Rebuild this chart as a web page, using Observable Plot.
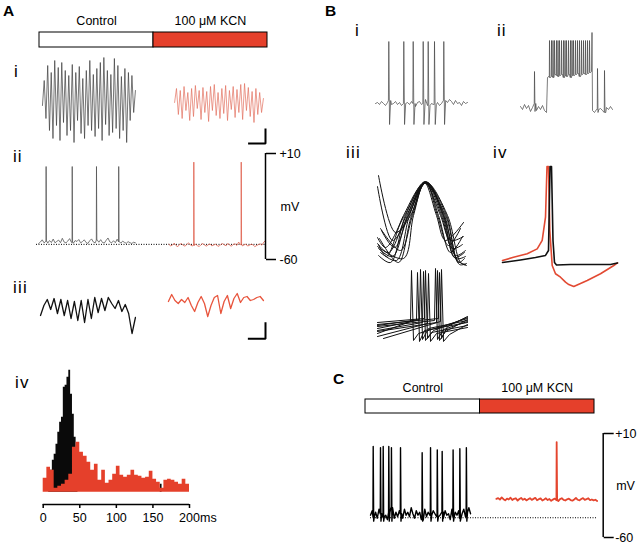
<!DOCTYPE html>
<html><head><meta charset="utf-8">
<script src="https://cdn.jsdelivr.net/npm/d3@7"></script>
<script src="https://cdn.jsdelivr.net/npm/@observablehq/plot@0.6"></script>
<style>
html,body{margin:0;padding:0;background:#fff;}
#fig{position:relative;width:640px;height:544px;overflow:hidden;font-family:"Liberation Sans",Arial,Helvetica,sans-serif;color:#000;background:#fff;}
.lbl{position:absolute;line-height:1;white-space:nowrap;}
</style></head><body><div id="fig"></div>
<script>
// ---------------- DATA ----------------
const conditions = ["Control", "100 μM KCN"];
const conditionFill = ["white", "#e5402b"];
const mVTicks = [10, -60];

// A i : membrane oscillation (µV), time in s
const aiTime = {control: [0.26, 4.32], kcn: [6.03, 9.91]};
const aiControl = [-5,20,-18,35,-30,28,-38,40,-25,33,-40,38,-22,30,-35,25,-30,36,-42,28,-20,34,-33,22,-38,30,-25,40,-30,26,-36,32,-28,38,-40,43,-24,30,-35,26,-32,42,-28,35,-38,24,-30,32,-42,28,-20,25,-12,10];
const aiKCN = [-2,12,-14,10,-18,14,-10,8,-20,12,-16,15,-8,10,-19,13,-12,9,-21,14,-10,16,-15,8,-18,12,-13,15,-20,10,-9,14,-17,11,-12,16,-19,17,-10,13,-16,9,-22,12,-14,8,-12,2];
const aiScaleBar = {s: 0.76, amp: 15};

// A ii : intracellular trace (mV), time in s
const aiiTime = {control: [0.09, 4.32], kcn: [5.78, 10]};
const aiiControlBase = [-49.5,-48.5,-47,-49,-48,-49.2,-47.5,-48.8,-46.5,-49,-48,-47.2,-48.9,-46,-48.5,-49,-47.8,-46.2,-48.7,-49.3,-47.5,-48.1,-46.8,-49,-48.2,-47,-48.8,-49.4,-47.6,-46.4,-48.5,-49,-47.2,-48.6,-46.9,-48.8,-49.1,-47.3,-45.8,-48.4,-49,-47.6,-48.9,-46.6,-48.3,-49.2,-47.9,-48.7,-49.3,-48.2,-48.9,-49.4,-48.6,-49];
const aiiKCNBase = [-50,-51,-50.5,-49.2,-50.8,-51.5,-50,-49.5,-50.6,-51.2,-50.1,-49,-50.4,-51,-50.7,-49.8,-50.9,-51.4,-50.2,-49.4,-50.6,-51.1,-50.3,-49.7,-51,-50.5,-49.9,-50.8,-51.3,-50.1,-49.5,-50.4,-50.9,-49.3,-50.6,-51.2,-50,-49.6,-50.7,-48.5,-50.2,-51,-50.4,-49.8,-51.1,-50.6,-49.9,-50.3,-51.5,-50.8,-50.2,-49.6,-50.5,-48.6,-47.5];
const aiiControlSpikes = [0.42, 1.56, 2.62, 3.59];
const aiiKCNSpikes = [6.87, 8.94];
const aiiPeak = {control: 1.4, kcn: 4.3};
const aiiRest = -50;

// A iii : filtered oscillation, time in s
const aiiiTime = {control: [0.175, 4.32], kcn: [5.76, 9.91]};
const aiiiControl = [-5,5,11,1,12,-3,11,-5,10,-8,9,-10,10,-12,11,-8,13,-2,12,0,13,7,2,10,-1,6,-3,-23,-7];
const aiiiKCN = [9,16,10,7,11,8,13,5,-1,8,14,7,-6,5,13,15,-3,9,15,2,12,17,8,13,14,10,11,13,14,10];
const aiiiScaleBar = {s: 0.77, amp: 16.6};

// A iv : phase histograms, 0-200 ms
const redBinMs = 5;
const redCounts = [14,25,22,4,6,8,12,18,45,50,40,36,30,22,28,12,22,9,12,18,26,17,15,17,22,17,16,14,15,21,13,10,4,12,13,12,10,8,13,8];
const blackBinMs = 2.5;
const blackCounts = [0,0,0,8,22,32,38,48,60,70,75,105,107,115,122,98,78,55,22,0,
  0,0,0,0,0,0,0,0,0,0,0,0,0,0,0,0,0,0,0,0,
  0,0,0,0,0,0,0,0,0,0,0,0,0,0,0,0,0,0,0,0,
  0,0,0,0,8,0,0,0,0,0,0,0,0,0,0,0,0,0,0,0];
const histTicks = [0, 50, 100, 150, 200];

// B i : extracellular unit (ms, a.u.)
const biTime = [0, 1840];
const biNoise = [0,1,-1,2,0,-2,1,3,-1,0,2,-1,1,-2,0,3,1,-1,2,0,-3,1,2,-1,0,4,-2,1,0,-1,2,1,-2,0,3,-1,1,4,2,-1,3,0,1,-2,2,0,1];
const biSpikes = [266, 566, 754, 954, 1054, 1180, 1366];
const biSpike = {peak: 62, trough: -21};

// B ii : burst (ms, a.u.)
const biiPreTime = [40, 560];
const biiPre = [2,-1,4,0,3,-3,1,5,-2,2,-1,3,-2,-4];
const biiPreSpikes = [320];
const biiPlateauTime = [580, 1460];
const biiPlateau = [31,32,31,33,32,31,32,34,31,33,32,31,33,32,34,32,31,33,35,32,33,34,32,31,33,35,33,32,34,33,35,34,32,36,34,33,35,37,34,36,35,38,36,34,37];
const biiPlateauSpikes = [620,660,690,720,760,790,820,860,900,930,960,1000,1040,1070,1100,1140,1180,1220,1260,1300,1340,1380,1420];
const biiFinalSpike = {t: 1470, peak: 76};
const biiPostTime = [1480, 1880];
const biiPost = [-2,-4,-1,-3,0,-2,-4,1,-1,2,-1];
const biiPostSpikes = [1580, 1720];
const biiPostPeaks = [40, 38];

// B iii : overlaid oscillation cycles [ms from peak, amplitude]
const biiiWaves = [
  [[-47,95],[-30,38],[-15,55],[-1,88],[15,55],[25,30],[38,34]],
  [[-48,84],[-33,30],[-17,55],[0,88],[16,55],[27,22],[37,26]],
  [[-48,33],[-40,23],[-21,55],[0,89],[19,55],[30,15],[40,20]],
  [[-48,27],[-37,18],[-19,55],[1,88],[18,55],[29,13],[39,18]],
  [[-47,22],[-33,14],[-18,55],[0,88],[21,55],[32,10],[40,6]],
  [[-45,18],[-29,10],[-16,55],[-1,87],[20,55],[33,8],[39,12]],
  [[-46,32],[-27,8],[-14,55],[1,88],[22,55],[35,8],[41,5]],
  [[-47,15],[-35,8],[-20,55],[0,88],[13,55],[25,18],[37,34]],
  [[-45,42],[-25,20],[-13,55],[0,89],[12,55],[23,25],[35,42]],
  [[-48,24],[-22,12],[-12,55],[-1,88],[11,55],[20,30],[38,48]],
  [[-44,40],[-31,23],[-17,55],[1,88],[17,55],[30,12],[40,14]],
  [[-47,26],[-39,14],[-22,55],[0,88],[18,55],[34,6],[41,7]]
];
// B iii : overlaid spikes [ms, amplitude]
const biiiSpikes = [
  [[-48,12],[-15,24],[-14,75],[-12,5],[-7,12],[42,27]],
  [[-48,17],[-9,25],[-8,73],[-6,4],[-1,15],[42,23]],
  [[-48,20],[-6,26],[-5,76],[-3,6],[3,17],[42,25]],
  [[-48,15],[-3,23],[-2,74],[0,5],[6,13],[42,20]],
  [[-48,23],[-1,27],[0,75],[2,7],[8,15],[42,28]],
  [[-48,9],[2,22],[3,72],[5,4],[11,12],[42,18]],
  [[-48,19],[9,25],[10,77],[12,6],[18,16],[42,24]],
  [[-48,14],[11,23],[12,75],[14,5],[20,14],[42,26]],
  [[-48,21],[13,27],[14,73],[16,7],[22,19],[42,29]],
  [[-42,7],[15,24],[16,76],[18,4],[24,11],[42,21]]
];

// B iv : averaged action potentials [ms, mV]
const bivControl = [[1,-60],[10,-58.3],[17.5,-56.7],[22.5,-55.3],[24,-52],[24.75,4],[25.5,4],[26.25,-45.3],[27,-60],[28,-61.7],[35,-61.3],[45,-61.3],[55,-61.3],[58.5,-60.3]];
const bivKCN = [[1,-58.7],[6.5,-56.5],[13.35,-54.2],[18.35,-50.9],[20.85,-45.3],[22.5,-29.8],[23.25,4],[24,4],[24.65,-38.7],[25.85,-62],[27.5,-67.5],[30,-69.8],[32.5,-73.1],[34.15,-74.7],[36.65,-76],[43.35,-72],[50,-67.5],[56.65,-62],[58.5,-60.3]];

// C : intracellular trace (mV), time in s
const cTime = {control: [0, 4.3], kcn: [5.41, 9.74]};
const cControlBase = [-45,-42,-46,-43,-47,-41,-44,-46,-42,-45,-48,-43,-40,-45,-47,-43,-46,-42,-44,-47,-41,-45,-43,-46,-40,-44,-47,-42,-45,-43,-48,-44,-41,-46,-43,-45,-47,-42,-44,-46,-40,-45,-43,-47,-42,-45,-44,-48,-41,-46,-43,-45,-42,-47,-44,-41,-46,-43,-40,-44];
const cKCNBase = [-34,-33.5,-34.5,-33,-34.2,-35,-33.8,-34.4,-33.2,-34.8,-34,-33.6,-35.2,-34.1,-33.4,-34.6,-33.9,-35,-34.3,-33.5,-34.7,-34,-33.3,-34.9,-34.2,-33.7,-35.1,-34.4,-33.6,-34.8,-34.1,-35.3,-34.5,-33.8,-34.9,-35.5,-34.2,-33.6,-34.7,-35.1,-34.3,-33.9,-34.8,-35.2,-34.4,-33.4,-34.6,-35,-34.1,-33.5,-34.7,-34.2,-33.6,-34.9,-34.4,-35,-34.6,-35.4];
const cControlSpikes = [0.116,0.43,0.546,0.786,0.9,1.29,2.22,2.58,2.87,3.08,3.55,3.84,4.12];
const cControlPeaks = [1.2,0.4,1.2,1.2,0.4,0.4,-3,0.4,-1,-2,-1,-0.3,0.4];
const cControlTrough = -49;
const cKCNSpikes = [8.0];
const cKCNPeak = 4.2;
const cRest = -46.7;
const cRestEnd = 9.77;

// ---------------- HELPERS ----------------
const fig = document.getElementById("fig");
const FONT = '"Liberation Sans", Arial, Helvetica, sans-serif';
function put(node, left, top) {
  node.style.position = "absolute";
  node.style.left = left + "px";
  node.style.top = top + "px";
  fig.appendChild(node);
  return node;
}
function frame(box, options) {
  return put(Plot.plot({
    width: box.w, height: box.h,
    marginLeft: box.l, marginRight: box.r, marginTop: box.t, marginBottom: box.b,
    style: {background: "transparent", overflow: "visible", fontFamily: FONT, fontSize: "12px", color: "black"},
    ...options
  }), box.x, box.y);
}
function label(text, left, baseline, size, bold, spacing) {
  const d = document.createElement("div");
  d.className = "lbl";
  d.textContent = text;
  d.style.fontSize = size + "px";
  d.style.fontWeight = bold ? "bold" : "normal";
  if (spacing) d.style.letterSpacing = spacing + "px";
  put(d, left, baseline - 0.8465 * size);
}
function sampled([t0, t1], values) {
  const dt = (t1 - t0) / (values.length - 1);
  return values.map((v, i) => ({t: t0 + i * dt, v}));
}
function withSpikes(pts, times, peaks, w, trough) {
  let out = pts.slice();
  times.forEach((ts, k) => {
    const near = d3.least(pts, p => Math.abs(p.t - ts));
    const lo = ts - w * 0.5, hi = ts + w * 2.5;
    out = out.filter(p => p.t < lo || p.t > hi);
    const peak = Array.isArray(peaks) ? peaks[k] : peaks;
    out.push({t: lo, v: near.v}, {t: ts, v: peak}, {t: ts + w, v: trough ?? near.v}, {t: hi, v: near.v});
  });
  return out.sort((a, b) => a.t - b.t);
}
function scaleBarPath(xEnd, yBase, bar) {
  return [{t: xEnd - bar.s, v: yBase}, {t: xEnd, v: yBase}, {t: xEnd, v: yBase + bar.amp}];
}
function pairs(list) {
  return list.flatMap((w, k) => w.map(([t, v]) => ({t, v, k})));
}
function steps(counts, bin) {
  const pts = counts.map((n, i) => ({ms: i * bin, n}));
  pts.push({ms: counts.length * bin, n: counts[counts.length - 1]});
  return pts;
}
function conditionBar(box) {
  frame(box, {
    x: {domain: [0, conditions.length], axis: null},
    color: {type: "identity"},
    marks: [
      Plot.barX(conditions, {x1: (d, i) => i, x2: (d, i) => i + 1, fill: (d, i) => conditionFill[i], stroke: "black", strokeWidth: 1}),
      Plot.text(conditions, {x: (d, i) => i + 0.5, frameAnchor: "top", lineAnchor: "bottom", dy: -8, text: d => d, fontSize: 12.5, fill: "black"})
    ]
  });
}
function mVBracket(xEnd, tickPadding, mvDx) {
  return [
    Plot.ruleX([xEnd], {y1: -60, y2: 10, stroke: "black", strokeWidth: 1.5}),
    Plot.axisY({anchor: "right", ticks: mVTicks, tickFormat: d => d > 0 ? "+" + d : String(d), tickSize: 10, tickPadding, fontSize: 12.5, strokeWidth: 1.5, label: null}),
    Plot.text(["mV"], {frameAnchor: "right", dx: mvDx, textAnchor: "start", fontSize: 12.5, fill: "black"})
  ];
}

// ---------------- PANEL A ----------------
conditionBar({x: 0, y: 0, w: 300, h: 50, l: 39, r: 33, t: 32, b: 3});

frame({x: 0, y: 50, w: 300, h: 100, l: 36, r: 35, t: 5, b: 5}, {
  x: {domain: [0, 10], axis: null}, y: {domain: [-45, 45], axis: null},
  marks: [
    Plot.line(sampled(aiTime.control, aiControl), {x: "t", y: "v", stroke: "#3c3c3c", strokeWidth: 0.7}),
    Plot.line(sampled(aiTime.kcn, aiKCN), {x: "t", y: "v", stroke: "#e2705e", strokeWidth: 0.7}),
    Plot.line(scaleBarPath(10, -43, aiScaleBar), {x: "t", y: "v", stroke: "black", strokeWidth: 2, strokeLinejoin: "miter", strokeLinecap: "butt"})
  ]
});

frame({x: 0, y: 140, w: 310, h: 130, l: 36, r: 45, t: 13, b: 11}, {
  x: {domain: [0, 10], axis: null}, y: {domain: [-60, 10]},
  marks: [
    Plot.ruleY([aiiRest], {x1: 0, x2: 10, stroke: "black", strokeWidth: 1, strokeDasharray: "1,1.5"}),
    Plot.line(withSpikes(sampled(aiiTime.control, aiiControlBase), aiiControlSpikes, aiiPeak.control, 0.015), {x: "t", y: "v", stroke: "#555", strokeWidth: 0.8}),
    Plot.line(withSpikes(sampled(aiiTime.kcn, aiiKCNBase), aiiKCNSpikes, aiiPeak.kcn, 0.015), {x: "t", y: "v", stroke: "#e0604c", strokeWidth: 0.8}),
    ...mVBracket(10, 4, 15)
  ]
});

frame({x: 0, y: 280, w: 300, h: 65, l: 36, r: 35, t: 5, b: 2}, {
  x: {domain: [0, 10], axis: null}, y: {domain: [-33, 25], axis: null},
  marks: [
    Plot.line(sampled(aiiiTime.control, aiiiControl), {x: "t", y: "v", stroke: "#111", strokeWidth: 1.3}),
    Plot.line(sampled(aiiiTime.kcn, aiiiKCN), {x: "t", y: "v", stroke: "#e8553d", strokeWidth: 1.3}),
    Plot.line(scaleBarPath(10, -28.3, aiiiScaleBar), {x: "t", y: "v", stroke: "black", strokeWidth: 2, strokeLinejoin: "miter", strokeLinecap: "butt"})
  ]
});

frame({x: 0, y: 360, w: 230, h: 170, l: 42.7, r: 41, t: 6.7, b: 26}, {
  x: {domain: [0, 200]}, y: {domain: [-12.3, 125], axis: null},
  marks: [
    Plot.areaY(steps(blackCounts, blackBinMs), {x: "ms", y: "n", curve: "step-after", fill: "#0a0a0a"}),
    Plot.areaY(steps(redCounts, redBinMs), {x: "ms", y: "n", curve: "step-after", fill: "#e5402b"}),
    Plot.ruleY([-12.3], {stroke: "black", strokeWidth: 1.5}),
    Plot.axisX({ticks: histTicks, tickSize: 4, tickPadding: 5, fontSize: 12.5, strokeWidth: 1.5, label: null}),
    Plot.text(["ms"], {x: [200], frameAnchor: "bottom", lineAnchor: "top", dy: 9, dx: 10.5, textAnchor: "start", fontSize: 12.5, fill: "black"})
  ]
});

// ---------------- PANEL B ----------------
frame({x: 370, y: 30, w: 100, h: 100, l: 5, r: 3, t: 8, b: 2}, {
  x: {domain: [0, 1840], axis: null}, y: {domain: [-25, 65], axis: null},
  marks: [
    Plot.line(withSpikes(sampled(biTime, biNoise), biSpikes, biSpike.peak, 15, biSpike.trough), {x: "t", y: "v", stroke: "#444", strokeWidth: 0.7})
  ]
});

const biiTrace = [
  ...withSpikes(sampled(biiPreTime, biiPre), biiPreSpikes, 37, 10, -3),
  ...withSpikes(sampled(biiPlateauTime, biiPlateau), biiPlateauSpikes, 68, 8),
  {t: biiFinalSpike.t, v: biiFinalSpike.peak},
  ...withSpikes(sampled(biiPostTime, biiPost), biiPostSpikes, biiPostPeaks, 10, -4)
];
frame({x: 512, y: 25, w: 110, h: 95, l: 6, r: 8, t: 5, b: 5}, {
  x: {domain: [0, 1920], axis: null}, y: {domain: [-7, 78], axis: null},
  marks: [
    Plot.line(biiTrace, {x: "t", y: "v", stroke: "#444", strokeWidth: 0.7})
  ]
});

frame({x: 368, y: 165, w: 105, h: 110, l: 4, r: 3, t: 7, b: 7}, {
  x: {domain: [-53, 45], axis: null}, y: {domain: [2, 98], axis: null},
  marks: [
    Plot.line(pairs(biiiWaves), {x: "t", y: "v", z: "k", curve: "catmull-rom", stroke: "#111", strokeWidth: 1})
  ]
});

frame({x: 368, y: 262, w: 105, h: 88, l: 4, r: 3, t: 3, b: 5}, {
  x: {domain: [-53, 45], axis: null}, y: {domain: [0, 80], axis: null},
  marks: [
    Plot.line(pairs(biiiSpikes), {x: "t", y: "v", z: "k", stroke: "#111", strokeWidth: 1})
  ]
});

frame({x: 495, y: 155, w: 130, h: 140, l: 5, r: 5, t: 7, b: 5}, {
  x: {domain: [0, 60], axis: null}, y: {domain: [-78.67, 6.67], axis: null},
  marks: [
    Plot.line(bivKCN, {x: d => d[0], y: d => d[1], stroke: "#e24a33", strokeWidth: 1.6}),
    Plot.line(bivControl, {x: d => d[0], y: d => d[1], stroke: "#111", strokeWidth: 1.6})
  ]
});

// ---------------- PANEL C ----------------
conditionBar({x: 330, y: 370, w: 300, h: 45, l: 35, r: 36, t: 29, b: 2});

frame({x: 330, y: 420, w: 310, h: 124, l: 40, r: 37.3, t: 13, b: 7}, {
  x: {domain: [0, 10], axis: null}, y: {domain: [-60, 10]},
  marks: [
    Plot.ruleY([cRest], {x1: 0, x2: cRestEnd, stroke: "black", strokeWidth: 1, strokeDasharray: "1,1.5"}),
    Plot.line(withSpikes(sampled(cTime.control, cControlBase), cControlSpikes, cControlPeaks, 0.02, cControlTrough), {x: "t", y: "v", stroke: "#000", strokeWidth: 1.4}),
    Plot.line(withSpikes(sampled(cTime.kcn, cKCNBase), cKCNSpikes, cKCNPeak, 0.02), {x: "t", y: "v", stroke: "#e4452e", strokeWidth: 1.8}),
    ...mVBracket(10, 2, 13)
  ]
});

// ---------------- LABELS ----------------
label("A", 3, 16, 15.5, true);
label("B", 325, 16, 15.5, true);
label("C", 333, 384, 15.5, true);
label("i", 14, 77, 17, false);
label("ii", 13, 162, 17, false, 1);
label("iii", 13, 293, 17, false, 1.2);
label("iv", 15, 388, 17, false, 1.2);
label("i", 355, 36, 17, false);
label("ii", 497, 36, 17, false, 1);
label("iii", 346, 158, 17, false, 1.2);
label("iv", 493, 158, 17, false, 1.2);
</script></body></html>
